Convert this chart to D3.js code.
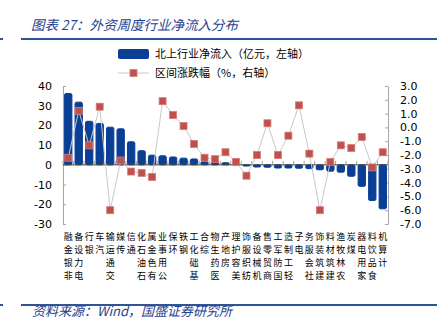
<!DOCTYPE html>
<html>
<head>
<meta charset="utf-8">
<script src="https://cdn.jsdelivr.net/npm/d3@7"></script>
<style>
  html, body { margin: 0; padding: 0; background: #ffffff; }
  svg { display: block; }
</style>
</head>
<body>
<div id="chart"></div>
<script>
// ---------- data ----------
const titleText = "图表 27：外资周度行业净流入分布";
const sourceText = "资料来源：Wind，国盛证券研究所";
const seriesNames = ["北上行业净流入（亿元，左轴）", "区间涨跌幅（%，右轴）"];
const categories = ["非银金融","电力设备","银行","汽车","交通运输","传媒","通信","石油石化","有色金属","公用事业","环保","钢铁","基础化工","综合","医药生物","房地产","美容护理","纺织服饰","机械设备","商贸零售","国防军工","轻工制造","电子","社会服务","建筑装饰","建筑材料","农林牧渔","煤炭","家用电器","食品饮料","计算机"];
const netInflow = [36.2, 31.8, 22.1, 21.0, 19.1, 18.3, 11.7, 7.2, 4.9, 4.6, 4.0, 3.4, 3.0, 1.6, 1.4, 1.1, 0.6, -0.6, -1.1, -1.2, -1.6, -1.6, -1.7, -1.9, -2.5, -3.2, -3.7, -5.8, -10.9, -18.1, -22.3];
const priceChange = [-2.2, 1.2, -1.3, 1.5, -6.0, -2.4, -3.2, -3.3, -3.6, 1.9, 0.9, 0.1, -1.2, -2.2, -2.3, -1.8, -2.5, -3.5, -2.0, 0.3, -2.0, -0.6, 1.6, -1.9, -6.0, -2.5, -1.3, -1.5, -0.7, -2.9, -1.8];
const leftTicks = [-30, -20, -10, 0, 10, 20, 30, 40];
const rightTicks = [-7, -6, -5, -4, -3, -2, -1, 0, 1, 2, 3];

// ---------- layout ----------
const W = 448, H = 328;
const plot = { left: 63, right: 388, top: 86, bottom: 224 };
const blue = "#0A3F95";
const red = "#C0504D";
const headBlue = "#2F5597";
const textBlue = "#1F3F8F";

const svg = d3.select("#chart").append("svg")
  .attr("width", W).attr("height", H)
  .attr("viewBox", `0 0 ${W} ${H}`);

svg.append("rect").attr("width", W).attr("height", H).attr("fill", "#fff");

// title & rules
svg.append("text")
  .attr("x", 31).attr("y", 30)
  .attr("font-family", "'Noto Sans CJK SC', 'DejaVu Sans', sans-serif")
  .attr("font-size", 13.5).attr("font-style", "italic")
  .attr("fill", textBlue)
  .text(titleText);
svg.append("line").attr("x1", 21).attr("x2", 437).attr("y1", 39).attr("y2", 39)
  .attr("stroke", headBlue).attr("stroke-width", 2);
svg.append("line").attr("x1", 0).attr("x2", 3).attr("y1", 39).attr("y2", 39)
  .attr("stroke", headBlue).attr("stroke-width", 2);
svg.append("line").attr("x1", 21).attr("x2", 437).attr("y1", 305).attr("y2", 305)
  .attr("stroke", headBlue).attr("stroke-width", 2);
svg.append("line").attr("x1", 0).attr("x2", 3).attr("y1", 305).attr("y2", 305)
  .attr("stroke", headBlue).attr("stroke-width", 2);
svg.append("text")
  .attr("x", 32).attr("y", 316)
  .attr("font-family", "'Noto Sans CJK SC', 'DejaVu Sans', sans-serif")
  .attr("font-size", 13).attr("font-style", "italic")
  .attr("fill", textBlue)
  .text(sourceText);

// ---------- scales ----------
const x = d3.scaleBand().domain(categories)
  .range([plot.left, plot.right]).paddingInner(0.3).paddingOuter(0.15);
const yL = d3.scaleLinear().domain([-30, 40]).range([plot.bottom, plot.top]);
const yR = d3.scaleLinear().domain([-7, 3]).range([plot.bottom, plot.top]);
const step = x.step();
const cx = c => x(c) + x.bandwidth() / 2;

// ---------- axes ----------
const axisColor = "#A6A6A6";
const leftAxis = svg.append("g").attr("transform", `translate(${plot.left},0)`)
  .call(d3.axisLeft(yL).tickValues(leftTicks).tickSizeInner(-3).tickSizeOuter(0).tickPadding(11).tickFormat(d => String(d)));
const rightAxis = svg.append("g").attr("transform", `translate(${plot.right},0)`)
  .call(d3.axisRight(yR).tickValues(rightTicks).tickSizeInner(-3).tickSizeOuter(0).tickPadding(12).tickFormat(d => d.toFixed(1)));
[leftAxis, rightAxis].forEach(g => {
  g.select(".domain").attr("stroke", axisColor);
  g.selectAll(".tick line").attr("stroke", axisColor);
  g.selectAll(".tick text")
    .attr("font-family", "'DejaVu Sans', Verdana, sans-serif")
    .attr("font-size", 11).attr("fill", "#000");
});

// category tick marks on the zero line
const bounds = d3.range(categories.length + 1).map(i => plot.left + i * step);
svg.append("g").selectAll("line").data(bounds).join("line")
  .attr("x1", d => d).attr("x2", d => d)
  .attr("y1", yL(0)).attr("y2", yL(0) - 4)
  .attr("stroke", axisColor).attr("stroke-width", 1);

// ---------- bars ----------
svg.append("g").selectAll("rect").data(categories).join("rect")
  .attr("x", c => x(c))
  .attr("width", x.bandwidth())
  .attr("y", (c, i) => yL(Math.max(0, netInflow[i])))
  .attr("height", (c, i) => Math.abs(yL(netInflow[i]) - yL(0)))
  .attr("rx", 1.5)
  .attr("fill", blue).attr("stroke", blue).attr("stroke-width", 1)
  .attr("stroke-linejoin", "round");

// zero line
svg.append("line")
  .attr("x1", plot.left).attr("x2", plot.right)
  .attr("y1", yL(0)).attr("y2", yL(0))
  .attr("stroke", "#404040").attr("stroke-width", 1);

// ---------- line + markers ----------
const lineGen = d3.line().x((d, i) => cx(categories[i])).y(d => yR(d));
svg.append("path").datum(priceChange)
  .attr("d", lineGen).attr("fill", "none")
  .attr("stroke", "#C8C8C8").attr("stroke-width", 1);
const ms = 7;
svg.append("g").selectAll("rect").data(priceChange).join("rect")
  .attr("x", (d, i) => cx(categories[i]) - ms / 2)
  .attr("y", d => yR(d) - ms / 2)
  .attr("width", ms).attr("height", ms)
  .attr("fill", red).attr("stroke", "#D77C79").attr("stroke-width", 0.8);

// ---------- category labels (upright glyphs, reading bottom-to-top) ----------
const pitch = 13.1, labelTop = 240;
const lab = svg.append("g")
  .attr("font-family", "'Noto Sans CJK SC', sans-serif")
  .attr("font-size", 9).attr("fill", "#000")
  .attr("text-anchor", "middle");
categories.forEach(c => {
  const chars = Array.from(c);
  const t = lab.append("text");
  chars.forEach((ch, i) => {
    t.append("tspan")
      .attr("x", cx(c))
      .attr("y", labelTop + (chars.length - 1 - i) * pitch)
      .text(ch);
  });
});

// ---------- legend ----------
const lg = svg.append("g");
const lx = 118, ltx = 155;
lg.append("rect").attr("x", lx).attr("y", 49).attr("width", 31).attr("height", 10)
  .attr("rx", 2).attr("fill", blue);
lg.append("line").attr("x1", lx).attr("x2", lx + 31).attr("y1", 73).attr("y2", 73)
  .attr("stroke", "#C8C8C8").attr("stroke-width", 1);
lg.append("rect").attr("x", lx + 15.5 - ms / 2).attr("y", 73 - ms / 2)
  .attr("width", ms).attr("height", ms)
  .attr("fill", red).attr("stroke", "#D77C79").attr("stroke-width", 0.8);
lg.selectAll("text").data(seriesNames).join("text")
  .attr("x", ltx).attr("y", (d, i) => 58 + i * 19)
  .attr("font-family", "'Noto Sans CJK SC', sans-serif")
  .attr("font-size", 11).attr("fill", "#000")
  .text(d => d);
</script>
</body>
</html>
